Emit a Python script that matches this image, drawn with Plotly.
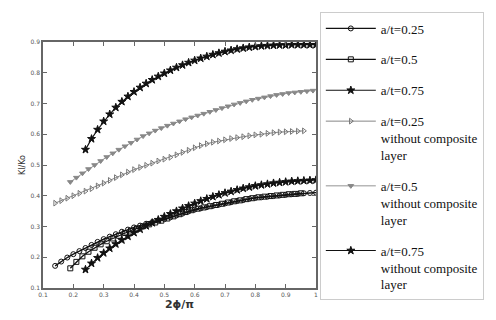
import plotly.graph_objects as go

# a/t=0.25 (with composite layer)
x_025 = [0.14,0.16,0.18,0.20,0.22,0.24,0.26,0.28,0.30,0.32,0.34,0.36,0.38,0.40,0.42,0.44,0.46,0.48,0.50,0.52,0.54,0.56,0.58,0.60,0.62,0.64,0.66,0.68,0.70,0.72,0.74,0.76,0.78,0.80,0.82,0.84,0.86,0.88,0.90,0.92,0.94,0.96,0.98,1.00]
y_025 = [.172,.186,.199,.210,.220,.230,.240,.250,.259,.267,.275,.283,.290,.297,.303,.309,.314,.319,.324,.330,.336,.342,.349,.355,.359,.363,.367,.371,.375,.379,.383,.386,.390,.393,.395,.397,.399,.401,.403,.405,.406,.408,.409,.410]

# a/t=0.5
x_05 = [0.19,0.21,0.23,0.25,0.27,0.29,0.31,0.33,0.35,0.37,0.39,0.41,0.43,0.45,0.47,0.49,0.51,0.53,0.55,0.57,0.59,0.61,0.63,0.65,0.67,0.69,0.71,0.73,0.75,0.77,0.79,0.81,0.83,0.85,0.87,0.89,0.91,0.93,0.95]
y_05 = [.164,.185,.203,.218,.231,.242,.252,.261,.270,.279,.287,.294,.301,.307,.313,.319,.326,.333,.340,.347,.353,.358,.362,.366,.370,.374,.378,.382,.385,.389,.392,.395,.397,.399,.401,.403,.405,.406,.408]

# a/t=0.75
x_075 = [0.24,0.26,0.28,0.30,0.32,0.34,0.36,0.38,0.40,0.42,0.44,0.46,0.48,0.50,0.52,0.54,0.56,0.58,0.60,0.62,0.64,0.66,0.68,0.70,0.72,0.74,0.76,0.78,0.80,0.82,0.84,0.86,0.88,0.90,0.92,0.94,0.96,0.98,1.00]
y_075 = [.160,.180,.198,.214,.229,.243,.256,.268,.280,.291,.302,.312,.322,.332,.341,.350,.359,.367,.375,.383,.390,.397,.403,.409,.414,.419,.424,.428,.432,.435,.438,.441,.443,.445,.447,.448,.449,.450,.451]

# a/t=0.25 without composite layer
x_025w = [0.14,0.16,0.18,0.20,0.22,0.24,0.26,0.28,0.30,0.32,0.34,0.36,0.38,0.40,0.42,0.44,0.46,0.48,0.50,0.52,0.54,0.56,0.58,0.60,0.62,0.64,0.66,0.68,0.70,0.72,0.74,0.76,0.78,0.80,0.82,0.84,0.86,0.88,0.90,0.92,0.94,0.96]
y_025w = [.376,.384,.392,.400,.408,.415,.423,.432,.441,.450,.459,.468,.477,.485,.492,.499,.506,.513,.519,.525,.533,.541,.548,.556,.563,.569,.574,.578,.582,.586,.589,.592,.595,.598,.600,.603,.605,.607,.608,.609,.610,.611]

# a/t=0.5 without composite layer
x_05w = [0.19,0.21,0.23,0.25,0.27,0.29,0.31,0.33,0.35,0.37,0.39,0.41,0.43,0.45,0.47,0.49,0.51,0.53,0.55,0.57,0.59,0.61,0.63,0.65,0.67,0.69,0.71,0.73,0.75,0.77,0.79,0.81,0.83,0.85,0.87,0.89,0.91,0.93,0.95,0.97,0.99]
y_05w = [.445,.459,.473,.487,.500,.513,.526,.538,.550,.561,.572,.583,.594,.603,.612,.620,.628,.635,.642,.649,.655,.661,.667,.673,.679,.685,.691,.697,.702,.707,.712,.716,.720,.724,.728,.731,.734,.736,.738,.740,.742]

# a/t=0.75 without composite layer
x_075w = [0.24,0.26,0.28,0.30,0.32,0.34,0.36,0.38,0.40,0.42,0.44,0.46,0.48,0.50,0.52,0.54,0.56,0.58,0.60,0.62,0.64,0.66,0.68,0.70,0.72,0.74,0.76,0.78,0.80,0.82,0.84,0.86,0.88,0.90,0.92,0.94,0.96,0.98,1.00]
y_075w = [.550,.585,.615,.642,.665,.687,.706,.723,.738,.752,.765,.777,.788,.798,.808,.817,.825,.833,.840,.847,.853,.859,.864,.869,.873,.877,.880,.883,.885,.887,.888,.889,.890,.890,.891,.891,.891,.891,.891]

xtick_vals = [0.1,0.2,0.3,0.4,0.5,0.6,0.7,0.8,0.9,1.0]
xtick_text = ["0.1","0.2","0.3","0.4","0.5","0.6","0.7","0.8","0.9","1"]
ytick_vals = [0.1,0.2,0.3,0.4,0.5,0.6,0.7,0.8,0.9]
ytick_text = ["0.1","0.2","0.3","0.4","0.5","0.6","0.7","0.8","0.9"]

series = [
    ("a/t=0.25", x_025, y_025, "circle-open", "#111", 5, 1.3),
    ("a/t=0.5", x_05, y_05, "square-open", "#111", 5, 1.3),
    ("a/t=0.75", x_075, y_075, "star", "#111", 6, 1.1),
    ("a/t=0.25<br>without composite<br>layer", x_025w, y_025w, "triangle-right-open", "#777", 5, 0.9),
    ("a/t=0.5<br>without composite<br>layer", x_05w, y_05w, "triangle-down", "#888", 5, 0.9),
    ("a/t=0.75<br>without composite<br>layer", x_075w, y_075w, "star", "#111", 6, 1.1),
]

fig = go.Figure()
for i, (name, xs, ys, sym, col, ms, lw) in enumerate(series):
    fig.add_trace(go.Scatter(
        x=xs, y=ys, name=name, mode="lines+markers",
        line=dict(color=col, width=lw),
        marker=dict(symbol=sym, size=ms, color=col, line=dict(color=col, width=1.0)),
        legendgroup=f"g{i}",
    ))

axis_common = dict(
    showline=True, linecolor="#666", linewidth=1.5, mirror="ticks",
    ticks="inside", ticklen=4, tickcolor="#666", showgrid=False, zeroline=False,
    tickfont=dict(family="DejaVu Sans", size=6, color="#555"),
)
fig.update_xaxes(range=[0.1, 1.0], tickvals=xtick_vals, ticktext=xtick_text,
                 title=dict(text="<b>2ϕ/π</b>", font=dict(family="DejaVu Sans", size=11, color="#333"), standoff=2),
                 **axis_common)
fig.update_yaxes(range=[0.1, 0.9], tickvals=ytick_vals, ticktext=ytick_text,
                 title=dict(text="Kl/Ko", font=dict(family="DejaVu Sans", size=8, color="#333"), standoff=4),
                 **axis_common)

fig.update_layout(
    width=496, height=320,
    margin=dict(l=43, r=163, t=41, b=24),
    plot_bgcolor="white", paper_bgcolor="white",
    legend=dict(
        x=1.014, y=1.12, xanchor="left", yanchor="top",
        font=dict(family="Liberation Serif, serif", size=13, color="#111"),
        bordercolor="#ccc", borderwidth=1, bgcolor="white",
        itemwidth=50, valign="top", tracegroupgap=11,
        maxheight=310,
    ),
)

fig.write_html("out.html")
